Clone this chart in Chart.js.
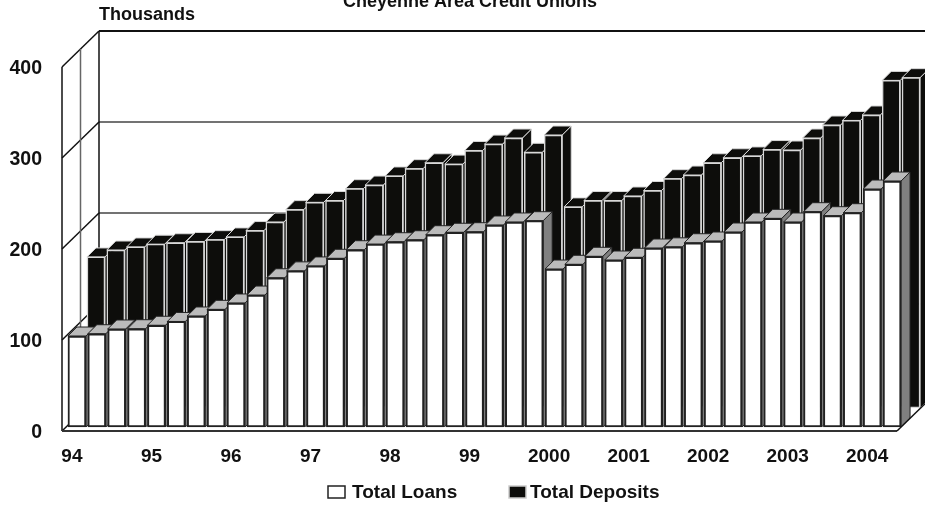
<!DOCTYPE html>
<html>
<head>
<meta charset="utf-8">
<style>
  html, body { margin: 0; padding: 0; background: #fff; overflow: hidden; }
  canvas { display: block; }
</style>
<script src="https://cdn.jsdelivr.net/npm/chart.js@4"></script>
</head>
<body>
<canvas id="chart" width="925" height="506"></canvas>
<script>
const years = ['94', '95', '96', '97', '98', '99', '2000', '2001', '2002', '2003', '2004'];
const valueTicks = [0, 100, 200, 300, 400];

const totalLoans = [100, 102.5, 107.7, 108, 111.8, 116, 122, 129.3, 136.3, 145,
  164, 171.6, 177, 185.4, 194.8, 201, 203.6, 205.8, 211.3, 214, 214.6,
  222, 225.3, 226.7, 173.6, 178.8, 187.6, 183.5, 186.5, 196.7, 198,
  202.5, 204.4, 214.3, 225.3, 229.3, 225.3, 236.6, 232.2, 235.5, 261.5, 270.3];
const totalDeposits = [166, 173.6, 177, 180, 181.6, 183, 185, 188, 195, 204.4,
  218, 226, 228, 241, 245, 255, 263, 269.5, 268, 283, 290,
  296.7, 281, 300, 221, 228, 228, 233, 239, 252, 256,
  269.5, 275, 277, 284, 283.5, 296.7, 311, 316, 322, 360, 363];

// a year label on every fourth (quarterly) bar
const categories = totalLoans.map((v, i) => i % 4 === 0 ? years[i / 4] : '');

const font = 'bold 19px "Liberation Sans"';
const ink = '#111';

// how far the walls run back, and where each row of bars sits on the floor
const wallDepth = { x: 37, y: 36 };
const barDepth = { x: 9, y: 9 };
const rows = [
  { dx: 5, dy: -4, top: '#bbb', side: '#808080', edge: '#222' },
  { dx: 24, dy: -23, top: '#0d0d0b', side: '#0d0d0b', edge: '#d8d8d8' }
];
const legendBoxes = [{ x: 328, textX: 352 }, { x: 509, textX: 530 }];

function line(ctx, x1, y1, x2, y2, color, width) {
  ctx.beginPath();
  ctx.moveTo(x1, y1);
  ctx.lineTo(x2, y2);
  ctx.strokeStyle = color;
  ctx.lineWidth = width;
  ctx.stroke();
}

function poly(ctx, pts, fill, edge) {
  ctx.beginPath();
  pts.forEach((p, i) => i ? ctx.lineTo(p[0], p[1]) : ctx.moveTo(p[0], p[1]));
  ctx.closePath();
  ctx.fillStyle = fill;
  ctx.fill();
  ctx.strokeStyle = edge;
  ctx.lineWidth = 1;
  ctx.stroke();
}

const walls = {
  id: 'walls',
  beforeDatasetsDraw(chart) {
    const { ctx, scales: { x, y } } = chart;
    const left = x.left, w = chart.width;
    const backX = left + wallDepth.x;
    ctx.save();
    valueTicks.forEach(v => {
      const py = y.getPixelForValue(v);
      if (v === 400) line(ctx, backX, py - wallDepth.y, w, py - wallDepth.y, '#111', 2);
      else if (v > 0) line(ctx, backX, py - wallDepth.y, w, py - wallDepth.y, '#444', 1.5);
      line(ctx, left, py, backX, py - wallDepth.y, '#111', 1.5);
    });
    line(ctx, left + wallDepth.x / 2, y.top - wallDepth.y / 2, left + wallDepth.x / 2, y.bottom - wallDepth.y / 2, '#666', 1.5);
    line(ctx, backX, y.top - wallDepth.y, backX, y.bottom - wallDepth.y, '#111', 1.5);
    line(ctx, left, y.top, left, y.bottom, '#111', 1.5);
    ctx.restore();
  },
  afterDatasetsDraw(chart) {
    const { ctx, scales: { x, y } } = chart;
    ctx.save();
    line(ctx, x.left, y.bottom, x.right, y.bottom, '#333', 2);
    line(ctx, x.right, y.bottom, x.right + wallDepth.x, y.bottom - wallDepth.y, '#111', 1.5);
    ctx.restore();
  }
};

// sides and tops go under the library's front faces, shifted back to the bar's row
const bars3d = {
  id: 'bars3d',
  beforeDatasetDraw(chart, args) {
    const { ctx } = chart;
    const row = rows[args.index];
    ctx.save();
    ctx.translate(row.dx, row.dy);
    args.meta.data.forEach(el => {
      const l = el.x - el.width / 2, r = el.x + el.width / 2;
      const d = barDepth;
      poly(ctx, [[r, el.y], [r + d.x, el.y - d.y], [r + d.x, el.base - d.y], [r, el.base]], row.side, row.edge);
      poly(ctx, [[l, el.y], [l + d.x, el.y - d.y], [r + d.x, el.y - d.y], [r, el.y]], row.top, row.edge);
    });
  },
  afterDatasetDraw(chart) {
    chart.ctx.restore();
  }
};

// title, unit and legend: all sit outside the plot, the title half off the top edge
const headings = {
  id: 'headings',
  afterDraw(chart) {
    const { ctx } = chart;
    ctx.save();
    ctx.fillStyle = ink;
    ctx.textBaseline = 'alphabetic';
    ctx.font = 'bold 18px "Liberation Sans"';
    ctx.textAlign = 'left';
    ctx.fillText('Thousands', 99, 20);
    ctx.textAlign = 'center';
    ctx.fillText('Cheyenne Area Credit Unions', 470, 7);

    ctx.font = font;
    ctx.textAlign = 'left';
    chart.data.datasets.forEach((ds, i) => {
      const b = legendBoxes[i];
      ctx.fillStyle = ds.backgroundColor;
      ctx.strokeStyle = i === 0 ? '#222' : '#ccc';
      ctx.lineWidth = 1.5;
      ctx.fillRect(b.x, 486, 17, 12);
      ctx.strokeRect(b.x, 486, 17, 12);
      ctx.fillStyle = ink;
      ctx.fillText(ds.label, b.textX, 498);
    });
    ctx.restore();
  }
};

new Chart(document.getElementById('chart'), {
  type: 'bar',
  data: {
    labels: categories,
    datasets: [
      { label: 'Total Loans', data: totalLoans, backgroundColor: '#fff', borderColor: rows[0].edge, borderWidth: 2, borderSkipped: false, clip: false },
      { label: 'Total Deposits', data: totalDeposits, backgroundColor: '#0d0d0b', borderColor: rows[1].edge, borderWidth: 1.5, borderSkipped: false, clip: false }
    ]
  },
  options: {
    responsive: false,
    animation: false,
    layout: { padding: { top: 67, right: 28, left: 0, bottom: 0 } },
    datasets: { bar: { grouped: false, barThickness: 18 } },
    plugins: {
      title: { display: false },
      tooltip: { enabled: false },
      legend: { display: false }
    },
    scales: {
      x: {
        grid: { display: false, drawTicks: false },
        border: { display: false },
        afterFit: s => { s.height = 75; },
        ticks: { autoSkip: false, maxRotation: 0, padding: 14, color: ink, font: { family: 'Liberation Sans', size: 19, weight: 'bold' } }
      },
      y: {
        min: 0,
        max: 400,
        afterBuildTicks: s => { s.ticks = valueTicks.map(v => ({ value: v })); },
        afterFit: s => { s.width = 62; },
        grid: { display: false, drawTicks: false },
        border: { display: false },
        ticks: { padding: 20, labelOffset: 1.5, color: ink, font: { family: 'Liberation Sans', size: 19.5, weight: 'bold' } }
      }
    }
  },
  plugins: [walls, bars3d, headings]
});
</script>
</body>
</html>
